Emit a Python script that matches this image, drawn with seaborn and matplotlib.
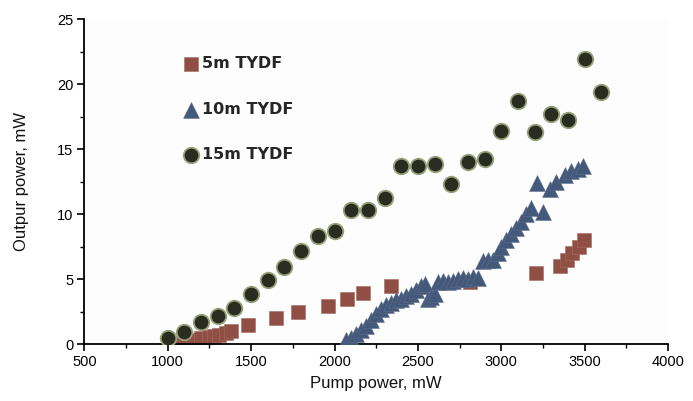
import matplotlib
matplotlib.use("Agg")
import matplotlib.pyplot as plt
import seaborn as sns
import pandas as pd
from matplotlib.ticker import MultipleLocator

sns.set_theme(style="ticks")
plt.rcParams['font.family'] = ['Liberation Sans', 'DejaVu Sans']

# ---- data ----
labels = ["5m TYDF", "10m TYDF", "15m TYDF"]

pump_5m = [1050, 1100, 1150, 1200, 1250, 1280, 1310, 1350, 1380, 1480, 1650, 1780,
           1960, 2075, 2170, 2340, 2810, 3210, 3355, 3395, 3425, 3465, 3498]
out_5m = [0.1, 0.25, 0.35, 0.45, 0.55, 0.65, 0.75, 0.9, 1.0, 1.45, 2.0, 2.45,
          2.95, 3.45, 3.95, 4.5, 4.8, 5.5, 6.0, 6.5, 7.0, 7.5, 8.0]

pump_10m = [2070, 2100, 2130, 2160, 2190, 2220, 2250, 2280, 2310, 2340, 2370, 2400,
            2430, 2460, 2490, 2520, 2540, 2560, 2580, 2600, 2620, 2650, 2680, 2710,
            2740, 2770, 2800, 2830, 2860, 2890, 2920, 2950, 2980, 3000, 3030, 3060,
            3090, 3120, 3150, 3180, 3215, 3250, 3290, 3330, 3380, 3420, 3460, 3490]
out_10m = [0.3, 0.5, 0.8, 1.1, 1.4, 1.9, 2.3, 2.7, 3.0, 3.2, 3.4, 3.5,
           3.7, 3.9, 4.2, 4.5, 4.6, 3.5, 3.6, 3.9, 4.8, 4.9, 4.8, 4.9,
           5.0, 5.1, 5.0, 5.2, 5.1, 6.4, 6.5, 6.5, 7.0, 7.5, 8.0, 8.5,
           8.9, 9.4, 10.0, 10.5, 12.4, 10.2, 11.9, 12.5, 13.0, 13.3, 13.5, 13.7]

pump_15m = [1000, 1100, 1200, 1300, 1400, 1500, 1600, 1700, 1800, 1900, 2000, 2100,
            2200, 2300, 2400, 2500, 2600, 2700, 2800, 2900, 3000, 3100, 3200, 3300,
            3400, 3500, 3600]
out_15m = [0.45, 0.95, 1.75, 2.2, 2.8, 3.85, 4.95, 5.95, 7.2, 8.3, 8.7, 10.3,
           10.3, 11.25, 13.7, 13.7, 13.85, 12.3, 14.0, 14.25, 16.4, 18.7, 16.3, 17.7,
           17.2, 21.95, 19.4]

xticks = [500, 1000, 1500, 2000, 2500, 3000, 3500, 4000]
yticks = [0, 5, 10, 15, 20, 25]

df5 = pd.DataFrame({"pump": pump_5m, "out": out_5m})
df10 = pd.DataFrame({"pump": pump_10m, "out": out_10m})
df15 = pd.DataFrame({"pump": pump_15m, "out": out_15m})

fig = plt.figure(figsize=(6.93, 4.01), dpi=100)
ax = fig.add_axes([0.1217, 0.1414, 0.8423, 0.8112])

sns.scatterplot(data=df5, x="pump", y="out", marker="s", s=105, color="#8f4f45",
                edgecolor="#a66a60", linewidth=0.4, ax=ax, label=labels[0], zorder=2)
sns.scatterplot(data=df10, x="pump", y="out", marker="^", s=130, color="#44587a",
                edgecolor="#5a6d8c", linewidth=0.4, ax=ax, label=labels[1], zorder=3)
sns.scatterplot(data=df15, x="pump", y="out", marker="o", s=125, color="#2b2c21",
                edgecolor="#97a27a", linewidth=1.3, ax=ax, label=labels[2], zorder=4)

ax.set_xlim(500, 4000)
ax.set_ylim(0, 25)
ax.set_xticks(xticks)
ax.set_yticks(yticks)
ax.xaxis.set_minor_locator(MultipleLocator(250))
ax.yaxis.set_minor_locator(MultipleLocator(2.5))
ax.tick_params(which="major", direction="out", length=5, width=1.2, labelsize=10.5,
               colors="black", pad=3)
ax.tick_params(which="minor", direction="out", length=3, width=1.0, colors="black")
for side in ["top", "right"]:
    ax.spines[side].set_visible(False)
for side in ["left", "bottom"]:
    ax.spines[side].set_linewidth(1.3)
    ax.spines[side].set_color("black")
ax.set_facecolor("#fdfdfd")

ax.set_xlabel("Pump power, mW", fontsize=12, labelpad=5, color="#111111")
ax.set_ylabel("Outpur power, mW", fontsize=12, labelpad=20, color="#111111")

leg = ax.legend(loc="upper left", bbox_to_anchor=(0.143, 0.93), frameon=False,
                labelspacing=1.92, handletextpad=0.15, handlelength=1.1,
                prop=dict(weight="bold", size=11.5, family="DejaVu Sans"))

fig.savefig("out.png", dpi=100)
